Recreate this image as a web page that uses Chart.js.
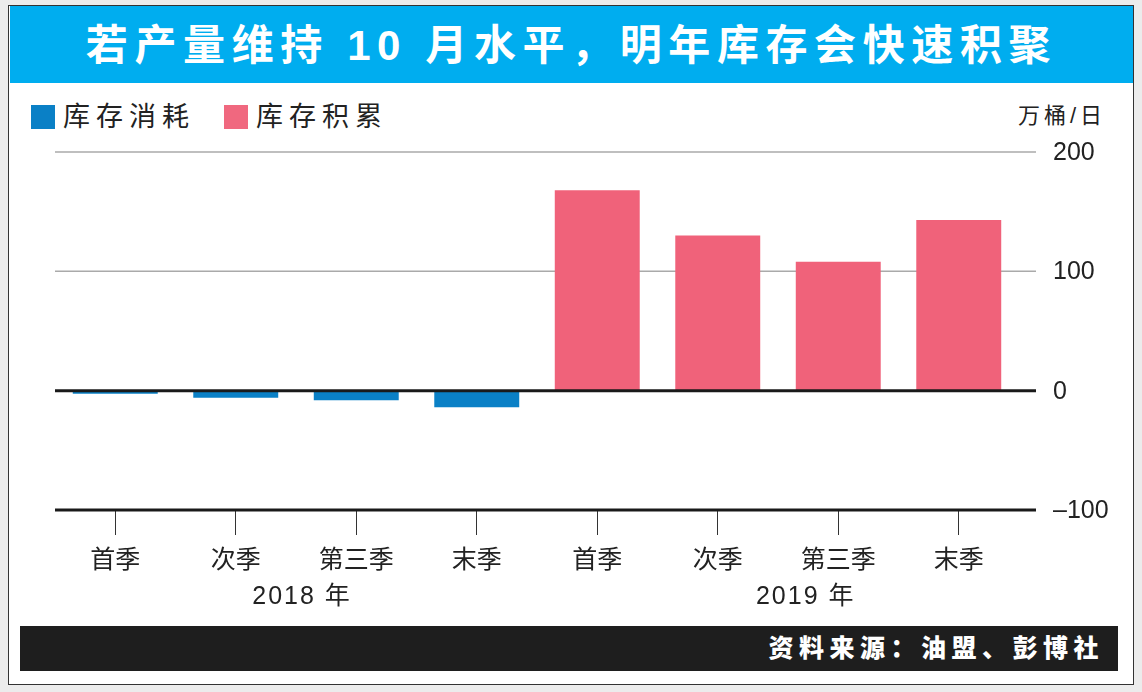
<!DOCTYPE html>
<html>
<head>
<meta charset="utf-8">
<script src="https://cdn.jsdelivr.net/npm/chart.js@4"></script>
<style>
  html, body { margin: 0; padding: 0; }
  body { width: 1142px; height: 692px; background: #ececec; position: relative; overflow: hidden;
         font-family: "Liberation Sans", "Noto Sans CJK SC", sans-serif; }
  #panel { position: absolute; left: 8px; top: 5px; width: 1124px; height: 678px; background: #fff; border: 1.5px solid #333; }
  #title { position: absolute; left: 10px; top: 6px; width: 1123px; height: 77px; background: #00adef; color: #fff;
           font-weight: bold; font-size: 42px; letter-spacing: 6.6px; text-align: center; line-height: 80px; }
  .legend { position: absolute; top: 101px; font-size: 27px; letter-spacing: 6px; color: #222; line-height: 32px; }
  .legend span { display: inline-block; width: 24px; height: 24px; vertical-align: -3px; margin-right: 8px; }
  #unit { position: absolute; left: 1018px; top: 97px; font-size: 22px; letter-spacing: 4px; color: #222; }
  #footer { position: absolute; left: 20px; top: 626px; width: 1098px; height: 45px; background: #1e1e1e; color: #fff;
            font-weight: bold; font-size: 25px; letter-spacing: 5.5px; text-align: right; line-height: 45px; }
  #footer b { margin-right: 14px; }
  canvas { position: absolute; left: 0; top: 0; }
</style>
</head>
<body>
<div id="panel"></div>
<div id="title">若产量维持 10 月水平，明年库存会快速积聚</div>
<div class="legend" style="left:31px"><span style="background:#0a80c6"></span>库存消耗</div>
<div class="legend" style="left:224px"><span style="background:#f0687f"></span>库存积累</div>
<div id="unit">万桶/日</div>
<div id="footer"><b>资料来源：油盟、彭博社</b></div>
<canvas id="chart" width="1142" height="692"></canvas>
<script>
// quarters, two years
const categories = ["首季", "次季", "第三季", "末季", "首季", "次季", "第三季", "末季"];
const years = ["2018 年", "2019 年"];
// 万桶/日
const depletion = [-2.5, -6, -8, -14, null, null, null, null];
const accumulation = [null, null, null, null, 168, 130, 108, 143];
const yTicks = [200, 100, 0, -100];

const blue = "#0a80c6";
const pink = "#f0627a";

// horizontal rules, a bit longer than the bars area
const rules = {
  id: "rules",
  beforeDatasetsDraw(chart) {
    drawRules(chart, false);
  },
  afterDatasetsDraw(chart) {
    drawRules(chart, true);
    // year labels under the quarter labels
    const ctx = chart.ctx;
    const x = chart.scales.x;
    const anchors = [1.55, 5.73];
    ctx.save();
    ctx.font = '25px "Liberation Sans", "Noto Sans CJK SC"';
    ctx.letterSpacing = "2px";
    ctx.fillStyle = "#222";
    ctx.textAlign = "center";
    ctx.textBaseline = "middle";
    years.forEach((y, i) => {
      const a = anchors[i];
      const px = x.getPixelForValue(Math.floor(a)) + (a % 1) * (x.getPixelForValue(1) - x.getPixelForValue(0));
      ctx.fillText(y, px, 597);
    });
    ctx.restore();
  }
};

function drawRules(chart, dark) {
  const ctx = chart.ctx;
  const y = chart.scales.y;
  const area = chart.chartArea;
  ctx.save();
  yTicks.forEach((v) => {
    const isDark = v <= 0;
    if (isDark !== dark) return;
    const py = y.getPixelForValue(v);
    ctx.beginPath();
    ctx.strokeStyle = isDark ? "#1a1a1a" : "#aaaaaa";
    ctx.lineWidth = isDark ? 3 : 1.5;
    ctx.moveTo(area.left, py);
    ctx.lineTo(area.right + 17, py);
    ctx.stroke();
  });
  ctx.restore();
}

new Chart(document.getElementById("chart"), {
  type: "bar",
  data: {
    labels: categories,
    datasets: [
      { label: "库存消耗", data: depletion, backgroundColor: blue },
      { label: "库存积累", data: accumulation, backgroundColor: pink }
    ]
  },
  options: {
    responsive: false,
    animation: false,
    layout: { padding: { left: 55, top: 152, right: 23, bottom: 102 } },
    datasets: { bar: { barPercentage: 0.705, categoryPercentage: 1 } },
    plugins: { legend: { display: false }, tooltip: { enabled: false } },
    scales: {
      x: {
        stacked: true,
        border: { display: false },
        grid: { drawOnChartArea: false, offset: false, tickLength: 25, color: "#333", lineWidth: 1 },
        ticks: { color: "#222", padding: 8, font: { size: 25, family: '"Noto Sans CJK SC"' } },
        afterFit(axis) { axis.height = 80; axis.paddingLeft = 0; axis.paddingRight = 0; }
      },
      y: {
        position: "right",
        min: -100,
        max: 200,
        border: { display: false },
        grid: { display: false, drawTicks: false },
        ticks: {
          stepSize: 100,
          padding: 34,
          labelOffset: 1,
          color: "#222",
          font: { size: 25, family: '"Liberation Sans"' },
          callback: (v) => (v < 0 ? "\u2013" + Math.abs(v) : v)
        },
        afterFit(axis) { axis.width = 100; axis.paddingTop = 0; axis.paddingBottom = 0; }
      }
    }
  },
  plugins: [rules]
});
</script>
</body>
</html>
